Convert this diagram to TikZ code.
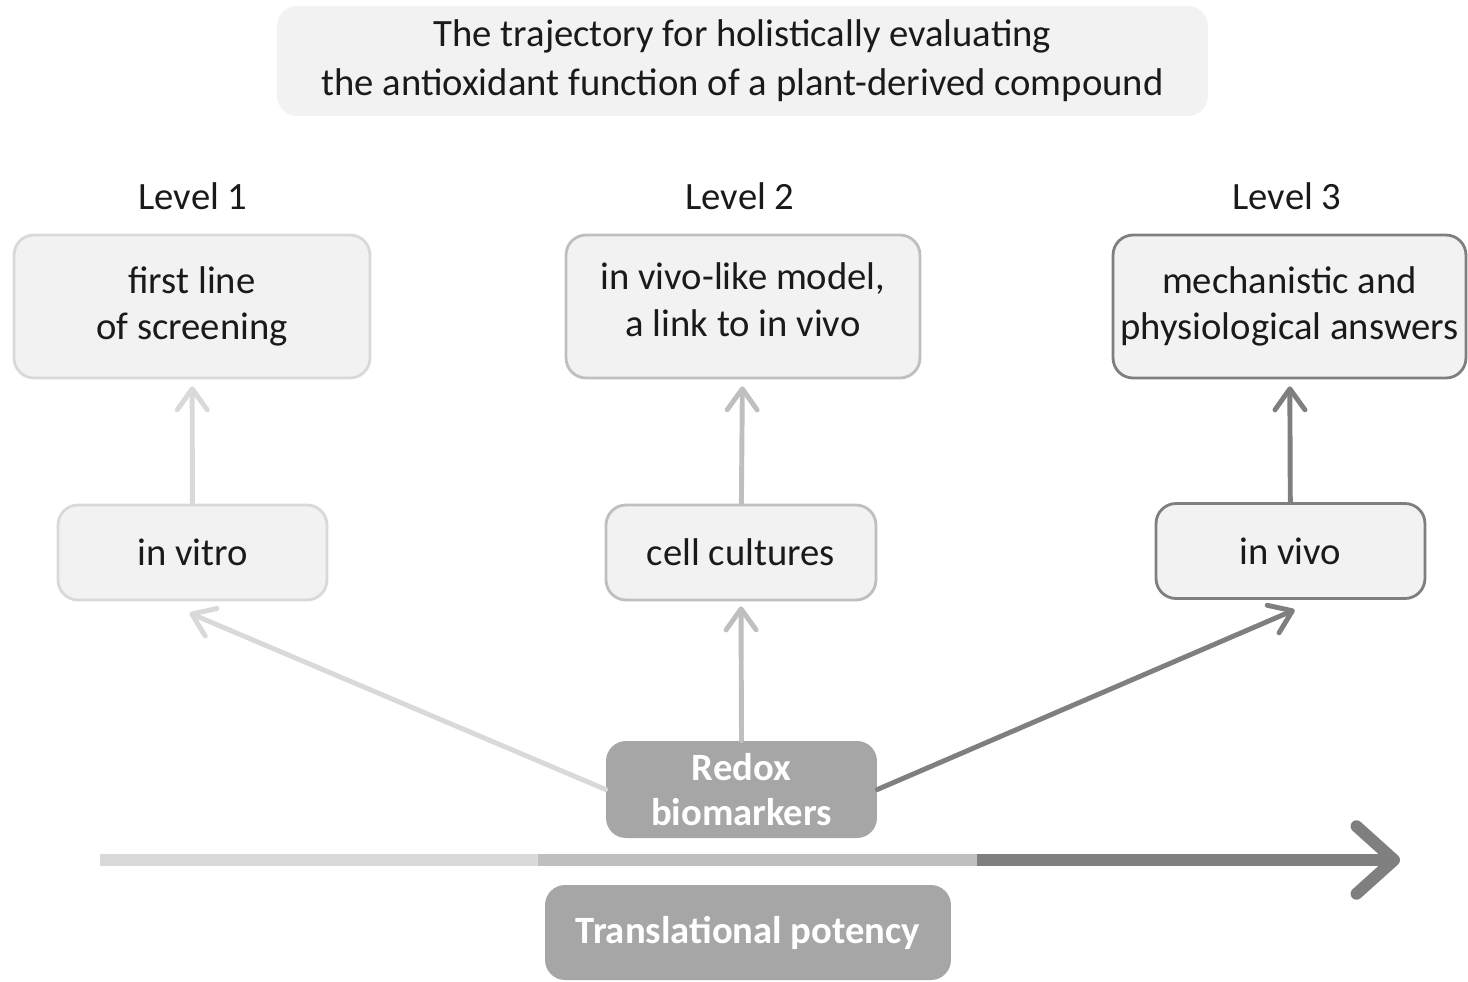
\documentclass[tikz,border=0pt]{standalone}
\usepackage{fontspec}
\setmainfont{Carlito}
\usetikzlibrary{arrows.meta,positioning,calc}
\definecolor{lightgr}{HTML}{D9D9D9}
\definecolor{midgr}{HTML}{BFBFBF}
\definecolor{darkgr}{HTML}{7F7F7F}
\definecolor{boxfill}{HTML}{F2F2F2}
\definecolor{solidgr}{HTML}{A6A6A6}
\definecolor{txtcol}{HTML}{1A1A1A}

\tikzset{
  lvlbox/.style={draw=#1, line width=1.6pt, fill=boxfill, rounded corners=0.4cm,
    align=center, inner sep=0pt, text=txtcol, font=\fontsize{22}{26.5}\selectfont},
  greybox/.style={fill=solidgr, rounded corners=0.4cm, align=center, inner sep=0pt,
    text=white, font=\fontsize{22}{25.5}\selectfont\bfseries},
  uparrow/.style={draw=#1, line width=2.8pt, line cap=round,
    -{Straight Barb[length=0.42cm,width=0.6cm,round]}, shorten >=0.14cm},
}

\begin{document}
\begin{tikzpicture}[x=0.02cm, y=-0.02cm]
    \useasboundingbox (0,0) rectangle (1468,981);
    % Title
    \node[fill=boxfill, rounded corners=0.4cm, minimum width=18.62cm, minimum height=2.2cm,
      align=center, text=txtcol, font=\fontsize{22}{28}\selectfont] (title) at (742.5,61)
      {The trajectory for holistically evaluating\\the antioxidant function of a plant-derived compound};
    % Level labels
    \node[text=txtcol, font=\fontsize{22}{26}\selectfont] (lvl1) at (193,196) {Level 1};
    \node[text=txtcol, font=\fontsize{22}{26}\selectfont] (lvl2) at (740,196) {Level 2};
    \node[text=txtcol, font=\fontsize{22}{26}\selectfont] (lvl3) at (1287,196) {Level 3};
    % Upper boxes
    \node[lvlbox=lightgr, minimum width=7.12cm, minimum height=2.86cm] (screen) at (192,306.5)
      {first line\\of screening};
    \node[lvlbox=midgr, minimum width=7.08cm, minimum height=2.86cm] (link) at (743,306.5)
      {in vivo-like model,\\a link to in vivo\strut};
    \node[lvlbox=darkgr, minimum width=7.06cm, minimum height=2.86cm] (answers) at (1289.5,306.5)
      {mechanistic and\\physiological answers};
    % Model boxes
    \node[lvlbox=lightgr, minimum width=5.38cm, minimum height=1.9cm] (vitro) at (192.5,552.5) {in vitro};
    \node[lvlbox=midgr, minimum width=5.4cm, minimum height=1.9cm] (cells) at (741,552.5) {cell cultures};
    \node[lvlbox=darkgr, minimum width=5.38cm, minimum height=1.9cm] (vivo) at (1290.5,551) {in vivo};
    % Redox biomarkers
    \node[greybox, minimum width=5.42cm, minimum height=1.94cm] (redox) at (741.5,789.5)
      {Redox\\biomarkers};
    % Arrows up
    \draw[uparrow=lightgr] (vitro) -- (screen);
    \draw[uparrow=midgr] (cells) -- (link);
    \draw[uparrow=darkgr] (vivo) -- (answers);
    \draw[uparrow=lightgr, shorten >=0.6cm] (redox.west) -- (vitro.-122);
    \draw[uparrow=midgr, shorten >=0.1cm] (redox.north) -- (cells.south);
    \draw[uparrow=darkgr, shorten >=0.5cm] (redox.east) -- (vivo.-61);
    % Translational axis
    \coordinate (b0) at (100,860);
    \coordinate (b1) at (538,860);
    \coordinate (b2) at (977,860);
    \coordinate (b3) at (1400,860);
    \draw[lightgr, line width=6.8pt] (b0) -- (b1);
    \draw[midgr, line width=6.8pt] (b1) -- (b2);
    \draw[darkgr, line width=6.8pt, -{Straight Barb[length=0.75cm,width=1.35cm,round]}] (b2) -- (b3);
    \node[greybox, minimum width=8.12cm, minimum height=1.9cm] (potency) at (748,932.5)
      {Translational potency};
\end{tikzpicture}
\end{document}
